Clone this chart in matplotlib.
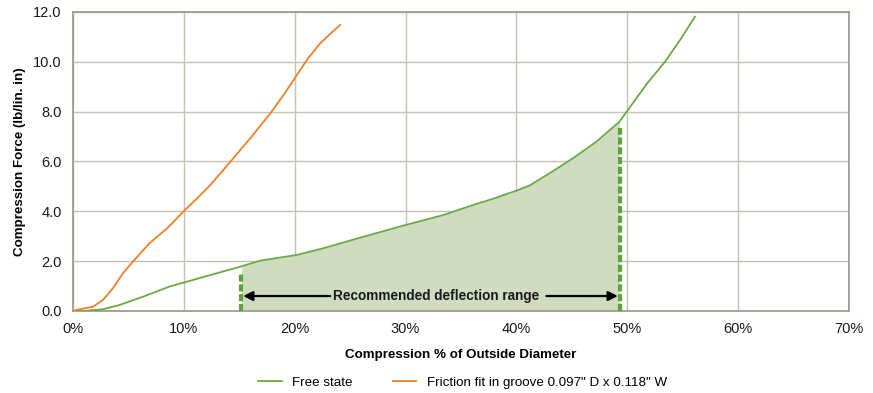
import matplotlib
matplotlib.use("Agg")
import matplotlib.pyplot as plt
import numpy as np

plt.rcParams['font.family'] = ['Liberation Sans', 'DejaVu Sans']

# Data (compression % , force lb/lin.in)
free_x = [0, 1.0, 2.7, 4.2, 6.3, 8.7, 10.3, 12.7, 15.1, 16.9, 20.2, 22.6, 26.2, 30.0,
          33.4, 35.8, 38.0, 40.0, 41.2, 43.0, 45.1, 47.2, 49.3, 50.0, 51.8, 53.4, 54.8, 56.1]
free_y = [0, 0.0, 0.07, 0.24, 0.57, 0.98, 1.18, 1.48, 1.78, 2.02, 2.25, 2.52, 2.98, 3.45,
          3.85, 4.21, 4.52, 4.83, 5.04, 5.53, 6.13, 6.79, 7.6, 8.03, 9.14, 10.0, 10.9, 11.81]
fit_x = [0, 0.3, 1.8, 2.7, 3.6, 4.5, 5.4, 6.9, 8.5, 10.1, 11.2, 12.4, 14.2, 16.1, 17.8,
         19.0, 20.0, 21.2, 22.3, 23.2, 24.1]
fit_y = [0, 0.04, 0.17, 0.44, 0.91, 1.51, 1.98, 2.72, 3.32, 4.05, 4.52, 5.06, 5.99, 6.99, 7.93,
         8.67, 9.34, 10.14, 10.74, 11.12, 11.48]
range_start = 15.2
range_end = 49.3
x_ticks = [0, 10, 20, 30, 40, 50, 60, 70]
y_ticks = [0, 2, 4, 6, 8, 10, 12]

green = '#6aaa44'
orange = '#f07f2a'
fill_c = '#cfdcbf'
grid_c = '#c9c1b6'
spine_c = '#a39b8f'
dash_c = '#5ea33a'

fig = plt.figure(figsize=(8.73, 3.93), dpi=100)
ax = fig.add_axes([0.0836, 0.2087, 0.9725 - 0.0836, 0.9695 - 0.2087])

fx = np.array(free_x, dtype=float)
fy = np.array(free_y, dtype=float)
xs = np.linspace(range_start, range_end, 300)
ys = np.interp(xs, fx, fy)
ax.fill_between(xs, 0, ys, color=fill_c, lw=0, zorder=1)

ax.plot(free_x, free_y, color=green, lw=1.3, zorder=3, label='Free state',
        solid_joinstyle='round')
ax.plot(fit_x, fit_y, color=orange, lw=1.3, zorder=3,
        label='Friction fit in groove 0.097" D x 0.118" W', solid_joinstyle='round')

h1 = 1.51
h2 = 7.33
ax.plot([range_start, range_start], [0, h1], color=dash_c, lw=3, ls=(0, (1.7, 0.65)), zorder=4)
ax.plot([range_end, range_end], [0, h2], color=dash_c, lw=3, ls=(0, (1.7, 0.65)), zorder=4)

ay = 0.6
mid = 32.8
ax.text(mid, ay, 'Recommended deflection range', ha='center', va='center',
        fontsize=9.8, fontweight='bold', color='#1a1a1a', zorder=5)
ax.annotate('', xy=(range_start + 0.15, ay), xytext=(23.2, ay),
            arrowprops=dict(arrowstyle='-|>', color='black', lw=1.6, mutation_scale=14,
                            shrinkA=0, shrinkB=0), zorder=5)
ax.annotate('', xy=(range_end - 0.15, ay), xytext=(42.7, ay),
            arrowprops=dict(arrowstyle='-|>', color='black', lw=1.6, mutation_scale=14,
                            shrinkA=0, shrinkB=0), zorder=5)

ax.set_xlim(0, 70)
ax.set_ylim(0, 12)
ax.set_xticks(x_ticks)
ax.set_xticklabels([f'{t}%' for t in x_ticks])
ax.set_yticks(y_ticks)
ax.set_yticklabels([f'{t:.1f}' for t in y_ticks])
ax.grid(True, color=grid_c, lw=1.0, zorder=0)
ax.set_axisbelow(True)
for s in ax.spines.values():
    s.set_color(spine_c)
    s.set_linewidth(1.3)
ax.tick_params(length=0, labelsize=10.5, colors='#1a1a1a', pad=8)
ax.set_xlabel('Compression % of Outside Diameter', fontsize=9.6, fontweight='bold', labelpad=9)
ax.set_ylabel('Compression Force (lb/lin. in)', fontsize=9.6, fontweight='bold', labelpad=5)

leg = fig.legend(loc='center', bbox_to_anchor=(0.53, 0.027), ncol=2, frameon=False,
                 fontsize=9.6, handlelength=1.75, handletextpad=0.8, columnspacing=3.0)

fig.savefig('out.png', dpi=100)
